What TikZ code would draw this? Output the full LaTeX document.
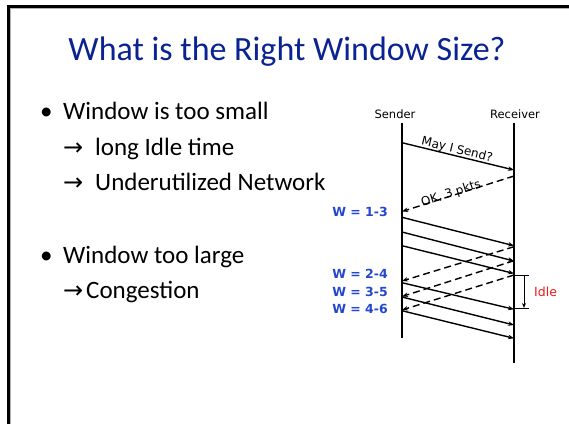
\documentclass[tikz,border=0pt]{standalone}
\usepackage{fontspec}
\setmainfont{Carlito}
\newfontfamily\dv{DejaVu Sans}
\usetikzlibrary{arrows.meta}
\definecolor{titleblue}{RGB}{10,35,145}
\definecolor{wblue}{RGB}{35,70,205}
\definecolor{idlered}{RGB}{240,25,25}
\tikzset{
  body/.style={anchor=base west, inner sep=0pt, font=\fontsize{25}{30}\selectfont},
  arr/.style={anchor=base west, inner sep=0pt, font=\dv\fontsize{24}{28}\selectfont},
  lifeline/.style={line width=2pt, black},
  msg/.style={line width=1.4pt, -{Stealth[length=6pt,width=4.5pt]}},
  ackmsg/.style={msg, dash pattern=on 7pt off 4pt},
  hdr/.style={anchor=base, inner sep=0pt, font=\dv\fontsize{11.5}{13}\selectfont},
  wlab/.style={anchor=base east, inner sep=0pt, text=wblue, font=\dv\bfseries\fontsize{12.5}{14}\selectfont},
  mlab/.style={inner sep=0pt, font=\dv\fontsize{12}{14}\selectfont},
}
\begin{document}
\begin{tikzpicture}[x=1pt,y=-1pt]
\useasboundingbox (0,0) rectangle (569,424);
% slide frame
\draw[line width=3pt] (8.8,424) -- (8.8,6.5) -- (569,6.5);
\draw[gray!60, line width=1pt] (10.8,424) -- (10.8,8.5) -- (569,8.5);
% title
\node[anchor=base, inner sep=0pt, text=titleblue, font=\fontsize{34}{40}\selectfont] (title) at (287,60) {What is the Right Window Size?};
% bullets
\node[body] (b1) at (40,119) {\textbullet};
\node[body] (t1) at (63,119) {Window is too small};
\node[arr] (a1) at (63,155) {→};
\node[body] (t2) at (95,155) {long Idle time};
\node[arr] (a2) at (63,190) {→};
\node[body] (t3) at (95,190) {Underutilized Network};
\node[body] (b2) at (40,263) {\textbullet};
\node[body] (t4) at (63,263) {Window too large};
\node[arr] (a3) at (63,298) {→};
\node[body] (t5) at (86,298) {Congestion};
% lifelines
\node[hdr] (sender) at (395,118) {Sender};
\node[hdr] (receiver) at (515,118) {Receiver};
\coordinate (stop) at (402,123);
\coordinate (sbot) at (402,338);
\coordinate (rtop) at (514,123);
\coordinate (rbot) at (514,363);
\draw[lifeline] (stop) -- (sbot);
\draw[lifeline] (rtop) -- (rbot);
% messages
\coordinate (m0s) at (402,142.7); \coordinate (m0r) at (514,170);
\coordinate (k0r) at (514,176);   \coordinate (k0s) at (402,211.5);
\coordinate (d1s) at (402,217.3); \coordinate (d1r) at (514,245.7);
\coordinate (d2s) at (402,232);   \coordinate (d2r) at (514,261);
\coordinate (d3s) at (402,245.7); \coordinate (d3r) at (514,273.5);
\coordinate (k1r) at (514,246.7); \coordinate (k1s) at (402,281);
\coordinate (k2r) at (514,260.7); \coordinate (k2s) at (402,296.5);
\coordinate (k3r) at (514,275);   \coordinate (k3s) at (402,310);
\coordinate (d4s) at (402,282.7); \coordinate (d4r) at (514,309.3);
\coordinate (d5s) at (402,297);   \coordinate (d5r) at (514,325);
\coordinate (d6s) at (402,310.7); \coordinate (d6r) at (514,338.3);
\draw[msg] (m0s) -- (m0r);
\draw[ackmsg] (k0r) -- (k0s);
\draw[msg] (d1s) -- (d1r);
\draw[msg] (d2s) -- (d2r);
\draw[msg] (d3s) -- (d3r);
\draw[ackmsg] (k1r) -- (k1s);
\draw[ackmsg] (k2r) -- (k2s);
\draw[ackmsg] (k3r) -- (k3s);
\draw[msg] (d4s) -- (d4r);
\draw[msg] (d5s) -- (d5r);
\draw[msg] (d6s) -- (d6r);
\node[mlab, rotate=-13.7] (may) at (457,150) {May I Send?};
\node[mlab, rotate=17.8] (ok) at (451,193.5) {OK, 3 pkts};
% window labels
\node[wlab] (w1) at (388,216) {W = 1-3};
\node[wlab] (w2) at (388,278) {W = 2-4};
\node[wlab] (w3) at (388,296) {W = 3-5};
\node[wlab] (w4) at (388,313) {W = 4-6};
% idle bracket
\coordinate (i1a) at (514,275); \coordinate (i1b) at (529,275);
\coordinate (i2a) at (514,308); \coordinate (i2b) at (529,308);
\coordinate (iat) at (524,275); \coordinate (iab) at (524,308);
\draw[line width=0.9pt] (i1a) -- (i1b);
\draw[line width=0.9pt] (i2a) -- (i2b);
\draw[line width=0.9pt, -{Stealth[length=5pt,width=4pt]}] (iat) -- (iab);
\node[anchor=west, inner sep=0pt, text=idlered, font=\dv\fontsize{12.5}{14}\selectfont] (idle) at (534,292) {Idle};
\end{tikzpicture}
\end{document}
